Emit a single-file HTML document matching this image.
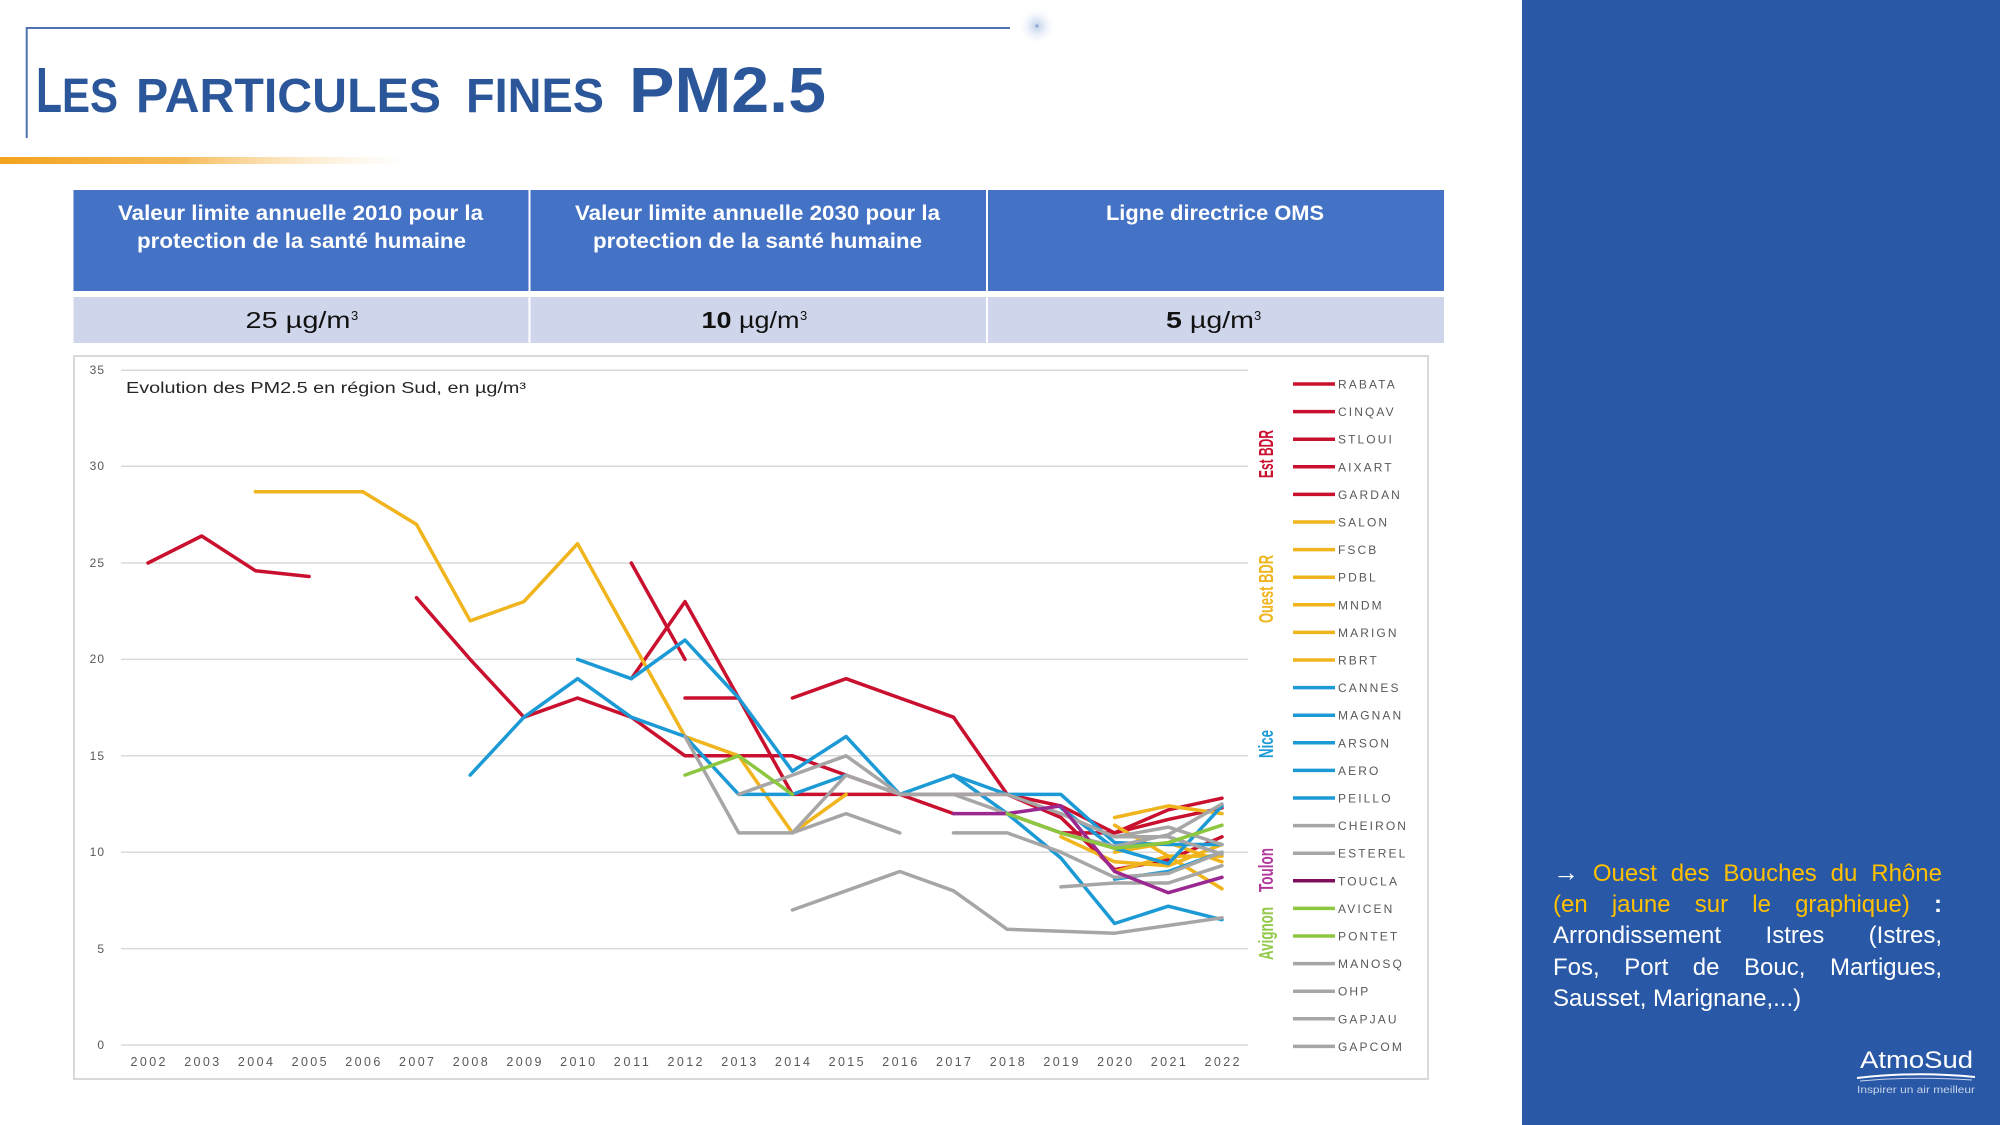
<!DOCTYPE html>
<html><head><meta charset="utf-8">
<style>
html,body{margin:0;padding:0;background:#fff;}
#wrap{position:relative;width:2000px;height:1125px;overflow:hidden;background:#fff;font-family:"Liberation Sans",sans-serif;}
svg{position:absolute;left:0;top:0;}
.rp{position:absolute;left:1553px;width:389px;font-size:24px;line-height:31.5px;color:#fff;white-space:nowrap;text-align:justify;text-align-last:justify;font-family:"Liberation Sans",sans-serif;}
.y{color:#ffc000;}
</style></head><body><div id="wrap">
<svg width="2000" height="1125" viewBox="0 0 2000 1125" xmlns="http://www.w3.org/2000/svg" font-family="Liberation Sans, sans-serif">
<defs>
<linearGradient id="og" x1="0" x2="1" y1="0" y2="0">
<stop offset="0" stop-color="#f3a21c"/>
<stop offset="0.45" stop-color="#f6b547" stop-opacity="0.9"/>
<stop offset="1" stop-color="#fce6c0" stop-opacity="0"/>
</linearGradient>
<radialGradient id="sp" cx="0.5" cy="0.5" r="0.5">
<stop offset="0" stop-color="#c3d2ea"/>
<stop offset="0.4" stop-color="#e8eef8"/>
<stop offset="1" stop-color="#ffffff" stop-opacity="0"/>
</radialGradient>
</defs>
<!-- right panel -->
<rect x="1522" y="0" width="478" height="1125" fill="#2858a6"/>
<!-- title frame -->
<path d="M26.7,138 L26.7,28 L1010,28" fill="none" stroke="#4d72ad" stroke-width="2"/>
<circle cx="1037" cy="26" r="20" fill="url(#sp)"/>
<circle cx="1037" cy="26" r="1.6" fill="#8fa9d6"/>
<!-- title -->
<g fill="#2b579a" font-weight="bold">
<text x="36" y="112" font-size="64" textLength="26" lengthAdjust="spacingAndGlyphs">L</text>
<text x="62" y="112" font-size="48" textLength="56" lengthAdjust="spacingAndGlyphs">ES</text>
<text x="136" y="112" font-size="48" textLength="305" lengthAdjust="spacingAndGlyphs">PARTICULES</text>
<text x="466" y="112" font-size="48" textLength="138" lengthAdjust="spacingAndGlyphs">FINES</text>
<text x="629" y="112" font-size="64" textLength="197" lengthAdjust="spacingAndGlyphs">PM2.5</text>
</g>
<rect x="0" y="157" width="410" height="7" fill="url(#og)"/>
<!-- table -->
<rect x="73.5" y="190" width="1370.5" height="101" fill="#4472c4"/>
<rect x="73.5" y="297" width="1370.5" height="46" fill="#cfd5ea"/>
<rect x="528.5" y="190" width="2" height="153" fill="#fff"/>
<rect x="986" y="190" width="2" height="153" fill="#fff"/>
<g fill="#fff" font-weight="bold" font-size="21" text-anchor="middle">
<text x="300.5" y="220" textLength="365" lengthAdjust="spacingAndGlyphs">Valeur limite annuelle 2010 pour la</text>
<text x="301.5" y="248" textLength="329" lengthAdjust="spacingAndGlyphs">protection de la santé humaine</text>
<text x="757.5" y="220" textLength="365" lengthAdjust="spacingAndGlyphs">Valeur limite annuelle 2030 pour la</text>
<text x="757.5" y="248" textLength="329" lengthAdjust="spacingAndGlyphs">protection de la santé humaine</text>
<text x="1215" y="220" textLength="218" lengthAdjust="spacingAndGlyphs">Ligne directrice OMS</text>
</g>
<g fill="#111" font-size="23">
<text x="245.5" y="328" textLength="105" lengthAdjust="spacingAndGlyphs">25 µg/m</text>
<text x="351" y="320" font-size="13">3</text>
<text x="701.5" y="328" textLength="98" lengthAdjust="spacingAndGlyphs"><tspan font-weight="bold">10</tspan> µg/m</text>
<text x="800" y="320" font-size="13">3</text>
<text x="1166" y="328" textLength="88" lengthAdjust="spacingAndGlyphs"><tspan font-weight="bold">5</tspan> µg/m</text>
<text x="1254" y="320" font-size="13">3</text>
</g>
<!-- chart box -->
<rect x="74" y="356" width="1354" height="723" fill="#fff" stroke="#d9d9d9" stroke-width="2"/>
<g stroke="#d9d9d9" stroke-width="1.5">
<line x1="121" y1="370.2" x2="1248" y2="370.2"/>
<line x1="121" y1="466.3" x2="1248" y2="466.3"/>
<line x1="121" y1="563" x2="1248" y2="563"/>
<line x1="121" y1="659.4" x2="1248" y2="659.4"/>
<line x1="121" y1="755.8" x2="1248" y2="755.8"/>
<line x1="121" y1="852.2" x2="1248" y2="852.2"/>
<line x1="121" y1="948.6" x2="1248" y2="948.6"/>
<line x1="121" y1="1045" x2="1248" y2="1045"/>
</g>
<g fill="#595959" font-size="12" text-anchor="end" letter-spacing="1">
<text x="105" y="374">35</text>
<text x="105" y="470">30</text>
<text x="105" y="567">25</text>
<text x="105" y="663">20</text>
<text x="105" y="760">15</text>
<text x="105" y="856">10</text>
<text x="105" y="953">5</text>
<text x="105" y="1049">0</text>
</g>
<g fill="#595959" font-size="12.5" text-anchor="middle">
<text x="148" y="1066" textLength="35">2002</text>
<text x="201.7" y="1066" textLength="35">2003</text>
<text x="255.4" y="1066" textLength="35">2004</text>
<text x="309.1" y="1066" textLength="35">2005</text>
<text x="362.8" y="1066" textLength="35">2006</text>
<text x="416.5" y="1066" textLength="35">2007</text>
<text x="470.2" y="1066" textLength="35">2008</text>
<text x="523.9" y="1066" textLength="35">2009</text>
<text x="577.6" y="1066" textLength="35">2010</text>
<text x="631.3" y="1066" textLength="35">2011</text>
<text x="685" y="1066" textLength="35">2012</text>
<text x="738.7" y="1066" textLength="35">2013</text>
<text x="792.4" y="1066" textLength="35">2014</text>
<text x="846.1" y="1066" textLength="35">2015</text>
<text x="899.8" y="1066" textLength="35">2016</text>
<text x="953.5" y="1066" textLength="35">2017</text>
<text x="1007.2" y="1066" textLength="35">2018</text>
<text x="1060.9" y="1066" textLength="35">2019</text>
<text x="1114.6" y="1066" textLength="35">2020</text>
<text x="1168.3" y="1066" textLength="35">2021</text>
<text x="1222" y="1066" textLength="35">2022</text>
</g>
<text x="126" y="393" font-size="15.5" fill="#262626" textLength="400" lengthAdjust="spacingAndGlyphs">Evolution des PM2.5 en région Sud, en µg/m³</text>
<!-- series -->
<g fill="none" stroke-width="3.5" stroke-linejoin="round" stroke-linecap="round">
<g stroke="#c9102f">
<path d="M148,563 L201.7,536 L255.4,570.7 L309.1,576.5"/>
<path d="M416.5,597.7 L470.2,659.4 L523.9,717.2 L577.6,698 L631.3,717.2 L685,755.8 L738.7,755.8 L792.4,755.8 L846.1,775.1 L899.8,794.4 L953.5,813.6"/>
<path d="M631.3,563 L685,659.4"/>
<path d="M631.3,678.7 L685,601.6 L738.7,698 L792.4,794.4 L846.1,794.4 L899.8,794.4 L953.5,794.4 L1007.2,794.4 L1060.9,805.9 L1114.6,832.9 L1168.3,809.8 L1222,798.2"/>
<path d="M685,698 L738.7,698"/>
<path d="M792.4,698 L846.1,678.7 L899.8,698 L953.5,717.2 L1007.2,794.4 L1060.9,817.5 L1114.6,869.6 L1168.3,859.9 L1222,836.8"/>
<path d="M1007.2,813.6 L1060.9,832.9 L1114.6,832.9 L1168.3,819.4 L1222,807.9"/>
</g>
<g stroke="#f0b41c">
<path d="M255.4,491.7 L309.1,491.7 L362.8,491.7 L416.5,524.4 L470.2,620.8 L523.9,601.6 L577.6,543.7 L631.3,640.1 L685,736.5 L738.7,755.8 L792.4,832.9 L846.1,794.4"/>
<path d="M1114.6,817.5 L1168.3,805.9 L1222,813.6"/>
<path d="M1114.6,825.2 L1168.3,856.1 L1222,888.8"/>
<path d="M1060.9,836.8 L1114.6,861.8 L1168.3,865.7 L1222,844.5"/>
<path d="M1114.6,871.5 L1168.3,856.1 L1222,856.1"/>
<path d="M1114.6,852.2 L1168.3,842.6 L1222,861.8"/>
</g>
<g stroke="#1c9ad6">
<path d="M577.6,659.4 L631.3,678.7 L685,640.1 L738.7,698 L792.4,771.2 L846.1,736.5 L899.8,794.4 L953.5,775.1 L1007.2,794.4 L1060.9,794.4 L1114.6,842.6 L1168.3,844.5 L1222,844.5"/>
<path d="M470.2,775.1 L523.9,717.2 L577.6,678.7 L631.3,717.2 L685,736.5 L738.7,794.4 L792.4,794.4 L846.1,775.1"/>
<path d="M953.5,775.1 L1007.2,813.6 L1060.9,858 L1114.6,923.5 L1168.3,906.2 L1222,919.7"/>
<path d="M1060.9,807.9 L1114.6,848.3 L1168.3,863.8 L1222,805.9"/>
<path d="M1114.6,879.2 L1168.3,871.5 L1222,852.2"/>
</g>
<g stroke="#a6a6a6">
<path d="M685,736.5 L738.7,832.9 L792.4,832.9 L846.1,775.1 L899.8,794.4 L953.5,794.4 L1007.2,794.4 L1060.9,813.6 L1114.6,836.8 L1168.3,827.1 L1222,844.5"/>
<path d="M738.7,794.4 L792.4,775.1 L846.1,755.8 L899.8,794.4 L953.5,794.4 L1007.2,813.6 L1060.9,832.9 L1114.6,846.4 L1168.3,834.8 L1222,804"/>
<path d="M792.4,832.9 L846.1,813.6 L899.8,832.9"/>
<path d="M792.4,910 L846.1,890.8 L899.8,871.5 L953.5,890.8 L1007.2,929.3 L1060.9,931.2 L1114.6,933.2 L1168.3,925.5 L1222,917.8"/>
<path d="M953.5,832.9 L1007.2,832.9 L1060.9,852.2 L1114.6,877.3 L1168.3,873.4 L1222,852.2"/>
<path d="M1060.9,886.9 L1114.6,883 L1168.3,883 L1222,865.7"/>
<path d="M1114.6,836.8 L1168.3,836.8 L1222,854.1"/>
</g>
<path stroke="#9a2890" d="M953.5,813.6 L1007.2,813.6 L1060.9,805.9 L1114.6,871.5 L1168.3,892.7 L1222,877.3"/>
<g stroke="#8dc63f">
<path d="M685,775.1 L738.7,755.8 L792.4,794.4"/>
<path d="M1007.2,813.6 L1060.9,832.9 L1114.6,848.3 L1168.3,842.6 L1222,825.2"/>
</g>
</g>
<!-- group labels -->
<g font-weight="bold" font-size="20" text-anchor="middle">
<text transform="translate(1273,454) rotate(-90)" fill="#c9102f" textLength="48" lengthAdjust="spacingAndGlyphs">Est BDR</text>
<text transform="translate(1273,589) rotate(-90)" fill="#f0b41c" textLength="68" lengthAdjust="spacingAndGlyphs">Ouest BDR</text>
<text transform="translate(1273,744) rotate(-90)" fill="#1c9ad6" textLength="28" lengthAdjust="spacingAndGlyphs">Nice</text>
<text transform="translate(1273,870) rotate(-90)" fill="#b0389a" textLength="44" lengthAdjust="spacingAndGlyphs">Toulon</text>
<text transform="translate(1273,933.5) rotate(-90)" fill="#92c94a" textLength="53" lengthAdjust="spacingAndGlyphs">Avignon</text>
</g>
<!-- legend -->
<g stroke-width="3.5">
<line x1="1293" x2="1335" y1="384" y2="384" stroke="#c9102f"/>
<line x1="1293" x2="1335" y1="411.6" y2="411.6" stroke="#c9102f"/>
<line x1="1293" x2="1335" y1="439.2" y2="439.2" stroke="#c9102f"/>
<line x1="1293" x2="1335" y1="466.8" y2="466.8" stroke="#c9102f"/>
<line x1="1293" x2="1335" y1="494.4" y2="494.4" stroke="#c9102f"/>
<line x1="1293" x2="1335" y1="522" y2="522" stroke="#f0b41c"/>
<line x1="1293" x2="1335" y1="549.6" y2="549.6" stroke="#f0b41c"/>
<line x1="1293" x2="1335" y1="577.2" y2="577.2" stroke="#f0b41c"/>
<line x1="1293" x2="1335" y1="604.8" y2="604.8" stroke="#f0b41c"/>
<line x1="1293" x2="1335" y1="632.4" y2="632.4" stroke="#f0b41c"/>
<line x1="1293" x2="1335" y1="660" y2="660" stroke="#f0b41c"/>
<line x1="1293" x2="1335" y1="687.6" y2="687.6" stroke="#1c9ad6"/>
<line x1="1293" x2="1335" y1="715.2" y2="715.2" stroke="#1c9ad6"/>
<line x1="1293" x2="1335" y1="742.8" y2="742.8" stroke="#1c9ad6"/>
<line x1="1293" x2="1335" y1="770.4" y2="770.4" stroke="#1c9ad6"/>
<line x1="1293" x2="1335" y1="798" y2="798" stroke="#1c9ad6"/>
<line x1="1293" x2="1335" y1="825.6" y2="825.6" stroke="#a6a6a6"/>
<line x1="1293" x2="1335" y1="853.2" y2="853.2" stroke="#a6a6a6"/>
<line x1="1293" x2="1335" y1="880.8" y2="880.8" stroke="#7d0f5b"/>
<line x1="1293" x2="1335" y1="908.4" y2="908.4" stroke="#8dc63f"/>
<line x1="1293" x2="1335" y1="936" y2="936" stroke="#8dc63f"/>
<line x1="1293" x2="1335" y1="963.6" y2="963.6" stroke="#a6a6a6"/>
<line x1="1293" x2="1335" y1="991.2" y2="991.2" stroke="#a6a6a6"/>
<line x1="1293" x2="1335" y1="1018.8" y2="1018.8" stroke="#a6a6a6"/>
<line x1="1293" x2="1335" y1="1046.4" y2="1046.4" stroke="#a6a6a6"/>
</g>
<g fill="#595959" font-size="12" letter-spacing="2.1">
<text x="1338" y="388.5">RABATA</text>
<text x="1338" y="416.1">CINQAV</text>
<text x="1338" y="443.7">STLOUI</text>
<text x="1338" y="471.3">AIXART</text>
<text x="1338" y="498.9">GARDAN</text>
<text x="1338" y="526.5">SALON</text>
<text x="1338" y="554.1">FSCB</text>
<text x="1338" y="581.7">PDBL</text>
<text x="1338" y="609.3">MNDM</text>
<text x="1338" y="636.9">MARIGN</text>
<text x="1338" y="664.5">RBRT</text>
<text x="1338" y="692.1">CANNES</text>
<text x="1338" y="719.7">MAGNAN</text>
<text x="1338" y="747.3">ARSON</text>
<text x="1338" y="774.9">AERO</text>
<text x="1338" y="802.5">PEILLO</text>
<text x="1338" y="830.1">CHEIRON</text>
<text x="1338" y="857.7">ESTEREL</text>
<text x="1338" y="885.3">TOUCLA</text>
<text x="1338" y="912.9">AVICEN</text>
<text x="1338" y="940.5">PONTET</text>
<text x="1338" y="968.1">MANOSQ</text>
<text x="1338" y="995.7">OHP</text>
<text x="1338" y="1023.3">GAPJAU</text>
<text x="1338" y="1050.9">GAPCOM</text>
</g>
<!-- logo -->
<text x="1860" y="1068" font-size="24" fill="#fff" textLength="113" lengthAdjust="spacingAndGlyphs">AtmoSud</text>
<path d="M1857,1078 Q1915,1071 1975,1077" fill="none" stroke="#fff" stroke-width="2"/>
<path d="M1860,1081 Q1915,1076 1972,1080" fill="none" stroke="#c9d6ee" stroke-width="1"/>
<text x="1857" y="1093" font-size="10" fill="#c8d4ea" textLength="118" lengthAdjust="spacingAndGlyphs">Inspirer un air meilleur</text>
</svg>
<div class="rp" style="top:857px;"><b style="font-size:26px;">→</b> <span class="y">Ouest des Bouches du Rhône</span></div>
<div class="rp" style="top:888.5px;"><span class="y">(en jaune sur le graphique)</span> <b>:</b></div>
<div class="rp" style="top:920px;">Arrondissement Istres (Istres,</div>
<div class="rp" style="top:951.5px;">Fos, Port de Bouc, Martigues,</div>
<div class="rp" style="top:983px;text-align:left;text-align-last:left;">Sausset, Marignane,...)</div>
</div></body></html>
